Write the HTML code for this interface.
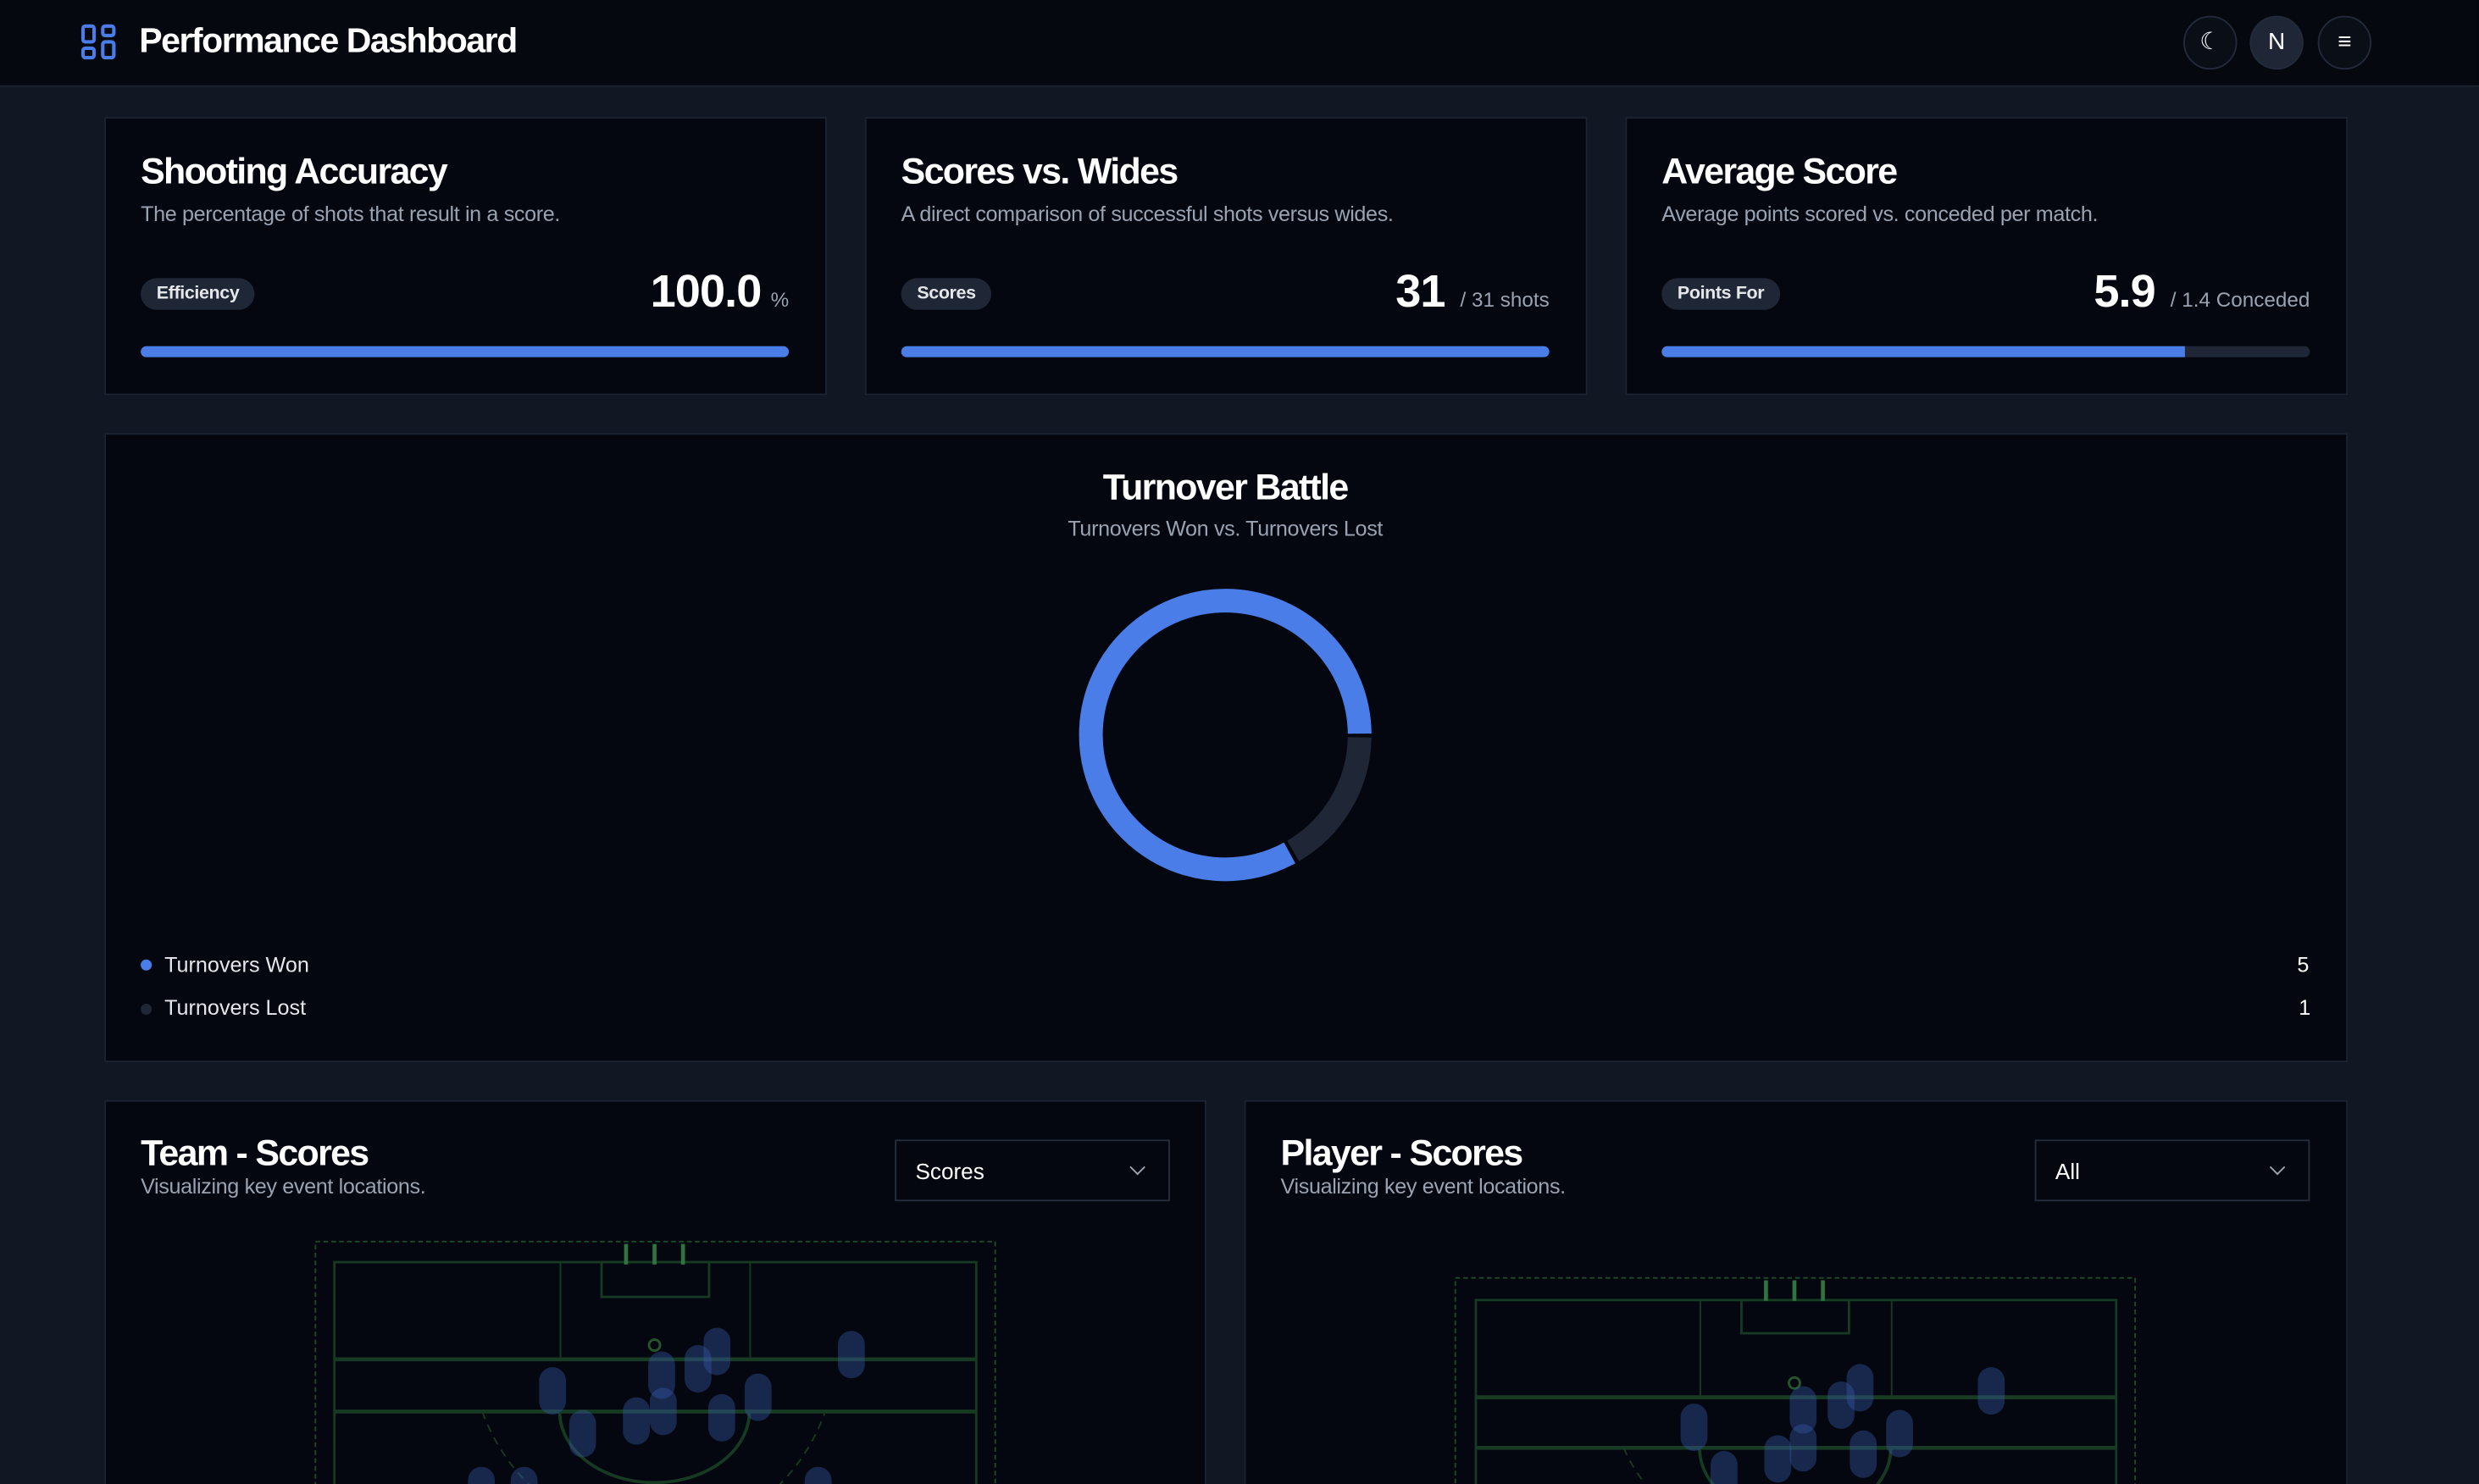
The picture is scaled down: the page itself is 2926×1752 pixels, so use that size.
<!DOCTYPE html>
<html><head><meta charset="utf-8"><style>
*{margin:0;padding:0;box-sizing:border-box}
html,body{width:2926px;height:1752px;overflow:hidden;background:#111723}
#w{position:absolute;left:0;top:0;width:1568px;height:939px;overflow:hidden;transform:scale(1.86607);transform-origin:0 0;font-family:"Liberation Sans",sans-serif;color:#fff;background:#111723}
.hdr{position:absolute;left:0;top:0;width:1568px;height:55px;background:#05080f;border-bottom:1px solid #1c2433}
.card{position:absolute;background:#04070f;border:1px solid #1c2433}
.t{position:absolute;font-weight:bold;font-size:23px;letter-spacing:-0.9px}
.s{position:absolute;font-size:13.5px;color:#9aa3b2;letter-spacing:-0.2px}
.pill{position:absolute;background:#1f2736;border-radius:10px;font-size:11.5px;font-weight:bold;padding:4px 10px;color:#e5e7eb;letter-spacing:-0.2px}
.bar{position:absolute;height:7px;border-radius:4px;background:#1f2736;overflow:hidden}
.bar i{display:block;height:100%;background:#4a7de8;border-radius:4px}
.num{position:absolute;font-size:29px;text-align:right;font-weight:bold;letter-spacing:-0.5px}
.num small{font-size:13px;color:#9aa3b2;margin-left:6px;font-weight:normal;letter-spacing:0}
.btn{position:absolute;top:10px;width:34px;height:34px;border-radius:50%;border:1px solid #232b3a;background:#0a0e17;text-align:center;line-height:32px;font-size:15px}
.sel{position:absolute;width:174px;height:39px;border:1px solid #262e3d;background:#04070f;font-size:14px;padding:11px 12px}
.sel:after{content:"";position:absolute;right:16px;top:13px;width:6px;height:6px;border-right:1.3px solid #9aa3b2;border-bottom:1.3px solid #9aa3b2;transform:rotate(45deg)}
</style></head><body><div id="w">
<div class="hdr">
<svg style="position:absolute;left:51px;top:15px" width="24" height="24" viewBox="0 0 24 24" fill="none" stroke="#4a7de8" stroke-width="2.2"><rect x="1.5" y="1.5" width="7" height="10" rx="1.5"/><rect x="14" y="1.5" width="7" height="6" rx="1.5"/><rect x="14" y="11.5" width="7" height="10" rx="1.5"/><rect x="1.5" y="15.5" width="7" height="6" rx="1.5"/></svg>
<div style="position:absolute;left:88px;top:13px;font-size:22px;font-weight:bold;letter-spacing:-0.8px">Performance Dashboard</div>
<div class="btn" style="left:1381px">☾</div>
<div class="btn" style="left:1423px;background:#1f2736">N</div>
<div class="btn" style="left:1466px">≡</div>
</div>

<div class="card" style="left:66px;top:74px;width:457px;height:176px"></div>
<div class="card" style="left:547px;top:74px;width:457px;height:176px"></div>
<div class="card" style="left:1028px;top:74px;width:457px;height:176px"></div>

<div class="t" style="left:89px;top:95px">Shooting Accuracy</div>
<div class="s" style="left:89px;top:128px">The percentage of shots that result in a score.</div>
<div class="pill" style="left:89px;top:176px">Efficiency</div>
<div class="num" style="right:1069px;top:169px">100.0<small>%</small></div>
<div class="bar" style="left:89px;top:219px;width:410px"><i style="width:100%"></i></div>

<div class="t" style="left:570px;top:95px">Scores vs. Wides</div>
<div class="s" style="left:570px;top:128px">A direct comparison of successful shots versus wides.</div>
<div class="pill" style="left:570px;top:176px">Scores</div>
<div class="num" style="right:588px;top:169px">31<small>&nbsp;/ 31 shots</small></div>
<div class="bar" style="left:570px;top:219px;width:410px"><i style="width:100%"></i></div>

<div class="t" style="left:1051px;top:95px">Average Score</div>
<div class="s" style="left:1051px;top:128px">Average points scored vs. conceded per match.</div>
<div class="pill" style="left:1051px;top:176px">Points For</div>
<div class="num" style="right:107px;top:169px">5.9<small>&nbsp;/ 1.4 Conceded</small></div>
<div class="bar" style="left:1051px;top:219px;width:410px"><i style="width:80.8%;border-radius:4px 0 0 4px"></i></div>

<div class="card" style="left:66px;top:274px;width:1419px;height:398px"></div>
<div class="t" style="left:0;width:1550px;text-align:center;top:295px">Turnover Battle</div>
<div class="s" style="left:0;width:1550px;text-align:center;top:327px">Turnovers Won vs. Turnovers Lost</div>
<svg style="position:absolute;left:675px;top:365px" width="200" height="200" viewBox="0 0 200 200">
<g fill="none" stroke-width="15">
<circle cx="100" cy="100" r="85" stroke="#4a7de8" stroke-dasharray="442 92.07" stroke-dashoffset="-91"/>
<circle cx="100" cy="100" r="85" stroke="#1f2736" stroke-dasharray="87 447" stroke-dashoffset="-1.5"/>
</g></svg>
<div style="position:absolute;left:89px;top:607px;width:7px;height:7px;border-radius:50%;background:#4a7de8"></div>
<div style="position:absolute;left:104px;top:603px;font-size:13.5px;color:#e5e7eb">Turnovers Won</div>
<div style="position:absolute;left:1453px;top:603px;font-size:13.5px">5</div>
<div style="position:absolute;left:89px;top:635px;width:7px;height:7px;border-radius:50%;background:#1f2736"></div>
<div style="position:absolute;left:104px;top:630px;font-size:13.5px;color:#e5e7eb">Turnovers Lost</div>
<div style="position:absolute;left:1454px;top:630px;font-size:13.5px">1</div>

<div class="card" style="left:66px;top:696px;width:697px;height:260px"></div>
<div class="card" style="left:787px;top:696px;width:698px;height:260px"></div>
<div class="t" style="left:89px;top:716px">Team - Scores</div>
<div class="s" style="left:89px;top:743px">Visualizing key event locations.</div>
<div class="sel" style="left:566px;top:721px">Scores</div>
<div class="t" style="left:810px;top:716px">Player - Scores</div>
<div class="s" style="left:810px;top:743px">Visualizing key event locations.</div>
<div class="sel" style="left:1287px;top:721px">All</div>

<svg style="position:absolute;left:0;top:0" width="1568" height="939">
<g fill="none" stroke="#173a22">
<rect x="199.5" y="785.5" width="430" height="200" stroke-dasharray="3 2" stroke="#1d4a28"/>
<rect x="211.5" y="798.5" width="406" height="200" stroke-width="1.5"/>
<line x1="211" y1="860" x2="617" y2="860" stroke-width="2.5"/>
<line x1="211" y1="893" x2="617" y2="893" stroke-width="2.5"/>
<rect x="354.5" y="798.5" width="120" height="62"/>
<rect x="380.5" y="798.5" width="68" height="22" stroke-width="1.5"/>
<path d="M354 893 A60 45 0 0 0 474 893" stroke-width="2"/>
<path d="M305 893 Q330 960 414 980 Q498 960 522 893" stroke-dasharray="5 4"/>
<circle cx="414" cy="851" r="3.5" stroke="#24562f" stroke-width="1.5"/>
<g stroke="#2f7340" stroke-width="2.5"><line x1="396" y1="787" x2="396" y2="800"/><line x1="414" y1="787" x2="414" y2="800"/><line x1="432" y1="787" x2="432" y2="800"/></g>

<rect x="920.5" y="808.5" width="430" height="200" stroke-dasharray="3 2" stroke="#1d4a28"/>
<rect x="933.5" y="822.5" width="405" height="200" stroke-width="1.5"/>
<line x1="933" y1="884" x2="1338" y2="884" stroke-width="2.5"/>
<line x1="933" y1="916" x2="1338" y2="916" stroke-width="2.5"/>
<rect x="1075.5" y="822.5" width="121" height="62"/>
<rect x="1101.5" y="822.5" width="68" height="21" stroke-width="1.5"/>
<path d="M1075 916 A60 45 0 0 0 1196 916" stroke-width="2"/>
<path d="M1027 916 Q1050 970 1135 990" stroke-dasharray="5 4"/>
<circle cx="1135" cy="875" r="3.5" stroke="#24562f" stroke-width="1.5"/>
<g stroke="#2f7340" stroke-width="2.5"><line x1="1117" y1="810" x2="1117" y2="823"/><line x1="1135" y1="810" x2="1135" y2="823"/><line x1="1153" y1="810" x2="1153" y2="823"/></g>
</g>
<g fill="#3b5bb0" fill-opacity="0.38">
<rect x="341" y="865" width="17" height="30" rx="8.5"/>
<rect x="360" y="892" width="17" height="30" rx="8.5"/>
<rect x="394" y="884" width="17" height="30" rx="8.5"/>
<rect x="410" y="855" width="17" height="30" rx="8.5"/>
<rect x="411" y="878" width="17" height="30" rx="8.5"/>
<rect x="433" y="851" width="17" height="30" rx="8.5"/>
<rect x="445" y="840" width="17" height="30" rx="8.5"/>
<rect x="448" y="882" width="17" height="30" rx="8.5"/>
<rect x="471" y="869" width="17" height="30" rx="8.5"/>
<rect x="530" y="842" width="17" height="30" rx="8.5"/>
<rect x="296" y="928" width="17" height="30" rx="8.5"/>
<rect x="323" y="928" width="17" height="30" rx="8.5"/>
<rect x="509" y="928" width="17" height="30" rx="8.5"/>
<rect x="1063" y="888" width="17" height="30" rx="8.5"/>
<rect x="1116" y="908" width="17" height="30" rx="8.5"/>
<rect x="1132" y="877" width="17" height="30" rx="8.5"/>
<rect x="1132" y="901" width="17" height="30" rx="8.5"/>
<rect x="1156" y="874" width="17" height="30" rx="8.5"/>
<rect x="1168" y="863" width="17" height="30" rx="8.5"/>
<rect x="1170" y="905" width="17" height="30" rx="8.5"/>
<rect x="1193" y="892" width="17" height="30" rx="8.5"/>
<rect x="1251" y="865" width="17" height="30" rx="8.5"/>
<rect x="1082" y="918" width="17" height="30" rx="8.5"/>
</g>
</svg>
</div></body></html>
